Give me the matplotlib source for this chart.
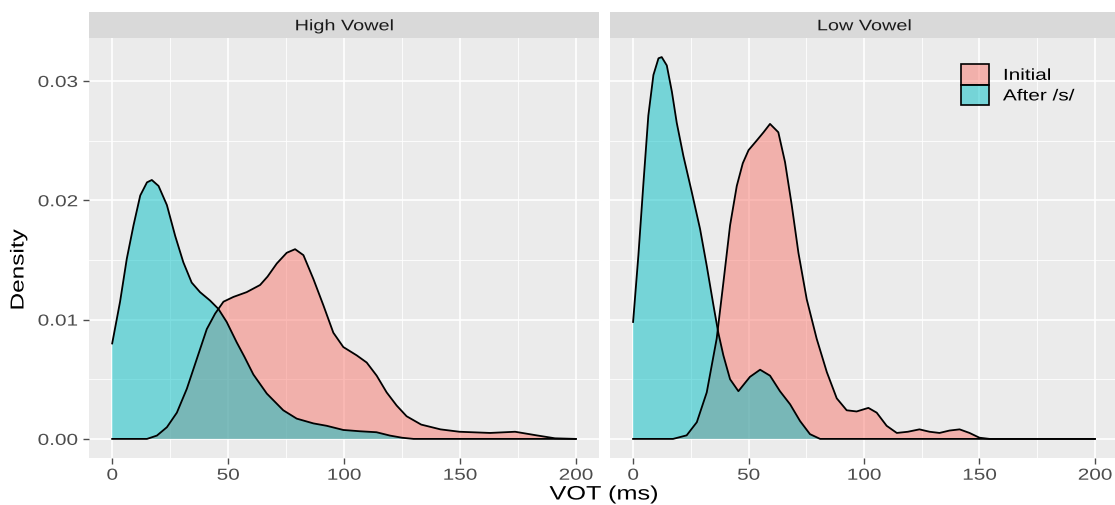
import matplotlib.pyplot as plt
from matplotlib.patheffects import AbstractPathEffect
from matplotlib.transforms import Affine2D

plt.rcParams["font.family"] = ["Liberation Sans", "DejaVu Sans"]

# VOT density estimates (x in ms, y = density)
high_initial_x = [0, 10, 15, 19.3, 23.6, 27.9, 32.2, 36.5, 40.8, 44.4, 48, 52.3, 58, 63.8, 67, 71, 75.3,
                  78.9, 82.5, 86.8, 91.1, 95.4, 99.7, 105.5, 109.8, 114.1, 118.4, 122.7, 127, 133.3,
                  141.6, 149.8, 163, 173.8, 183, 191, 200]
high_initial_y = [0, 0, 0, 0.00028, 0.00098, 0.0022, 0.0042, 0.0067, 0.0092, 0.0105, 0.0115, 0.0119,
                  0.0123, 0.0129, 0.0136, 0.0147, 0.0156, 0.0159, 0.0154, 0.0134, 0.0112, 0.0089, 0.0077,
                  0.0070, 0.0064, 0.0053, 0.0039, 0.0028, 0.0019, 0.0012, 0.0008, 0.0006, 0.0005,
                  0.0006, 0.0003, 0.00005, 0]
high_after_x = [0, 3.4, 6.3, 9.2, 12.1, 15, 17.1, 20, 23.6, 27.2, 30.7, 34.3, 37.9, 42.2, 45.8, 49.4,
                53.7, 57, 60.9, 66.7, 73.8, 79.6, 86.8, 92.5, 99.7, 106.9, 114, 119.8, 125, 130, 200]
high_after_y = [0.0080, 0.0115, 0.0151, 0.0179, 0.0204, 0.0215, 0.0217, 0.0212, 0.0196, 0.0170, 0.0148,
                0.0131, 0.0123, 0.0116, 0.0109, 0.0098, 0.0081, 0.0069, 0.0054, 0.0038, 0.0024,
                0.0017, 0.0013, 0.0011, 0.00075, 0.00064, 0.00056, 0.00028, 0.0001, 0, 0]

low_initial_x = [0, 17.3, 23.2, 27.6, 31.9, 36.2, 39.1, 42, 44.9, 47.5, 50, 53.5, 56.5, 59.3, 62.9, 65.8,
                 68.7, 71.6, 75.2, 79.5, 83.9, 88.2, 92.5, 96.8, 101.9, 105.5, 109.8, 114.2, 119, 124,
                 128.4, 132.7, 137, 141.4, 145.7, 150, 154.4, 200]
low_initial_y = [0, 0, 0.0003, 0.0014, 0.0039, 0.0084, 0.0131, 0.0179, 0.0212, 0.0231, 0.0242, 0.0250,
                 0.0257, 0.0264, 0.0257, 0.0232, 0.0196, 0.0156, 0.0117, 0.0084, 0.0056, 0.0034, 0.0024,
                 0.0023, 0.0026, 0.0022, 0.0011, 0.0005, 0.0006, 0.0008, 0.0006, 0.0005, 0.0007, 0.0008,
                 0.0005, 0.0001, 0, 0]
low_after_x = [0, 2.3, 4.5, 6.6, 8.8, 11, 12.4, 14.6, 16.8, 18.9, 21.8, 25.4, 29, 31.9, 34.8, 36.9, 39.1,
               42, 45.6, 50.6, 55, 59.3, 63.6, 68, 72.3, 76.6, 81, 200]
low_after_y = [0.0098, 0.0154, 0.0215, 0.0271, 0.0305, 0.0319, 0.0320, 0.0313, 0.0291, 0.0265, 0.0237,
               0.0207, 0.0176, 0.0145, 0.0112, 0.0089, 0.0070, 0.0050, 0.0040, 0.0052, 0.0058, 0.0053,
               0.0040, 0.0029, 0.0015, 0.0004, 0, 0]

panels = ["High Vowel", "Low Vowel"]
groups = ["Initial", "After /s/"]
colors = ["#F8766D", "#00BFC4"]
x_ticks = [0, 50, 100, 150, 200]
y_ticks = [0.00, 0.01, 0.02, 0.03]

data = {
    "High Vowel": [(high_initial_x, high_initial_y), (high_after_x, high_after_y)],
    "Low Vowel": [(low_initial_x, low_initial_y), (low_after_x, low_after_y)],
}


class Widen(AbstractPathEffect):
    """stretch glyphs along the text direction (the source font is wide)"""

    def __init__(self, sx=1.3, frac=0.5):
        super().__init__()
        self.sx = sx
        self.frac = frac

    def draw_path(self, renderer, gc, tpath, affine, rgbFace=None):
        v = tpath.vertices
        if len(v):
            x0 = v[:, 0].min() + self.frac * (v[:, 0].max() - v[:, 0].min())
        else:
            x0 = 0
        t = Affine2D().translate(-x0, 0).scale(self.sx, 1).translate(x0, 0) + affine
        renderer.draw_path(gc, tpath, t, rgbFace)


SX = 1.3

W, H = 1115, 505
fig = plt.figure(figsize=(W / 100, H / 100), dpi=100)
fig.patch.set_facecolor("white")

# panel boxes in pixels: left, right
boxes = [(89, 599), (610, 1118)]
top, bottom, strip_top = 38, 458, 12

for i, name in enumerate(panels):
    l, r = boxes[i]
    ax = fig.add_axes([l / W, 1 - bottom / H, (r - l) / W, (bottom - top) / H])
    ax.set_facecolor("#EBEBEB")
    for s in ax.spines.values():
        s.set_visible(False)
    ax.set_xlim(-10, 210)
    ax.set_ylim(-0.0016, 0.0336)
    for v in [25, 75, 125, 175]:
        ax.axvline(v, color="white", lw=0.6, zorder=0)
    for v in [0.005, 0.015, 0.025]:
        ax.axhline(v, color="white", lw=0.6, zorder=0)
    for v in x_ticks:
        ax.axvline(v, color="white", lw=1.2, zorder=0)
    for v in y_ticks:
        ax.axhline(v, color="white", lw=1.2, zorder=0)

    for (xs, ys), c, g in zip(data[name], colors, groups):
        ax.fill_between(xs, ys, 0, facecolor=c, alpha=0.5, edgecolor="none", label=g)
        ax.plot(xs, ys, color="black", lw=1.3, solid_joinstyle="round")

    ax.set_xticks(x_ticks)
    ax.set_xticklabels([str(v) for v in x_ticks])
    ax.tick_params(axis="x", colors="#4D4D4D", labelsize=11.5, length=4, width=1, pad=3)
    for t in ax.get_xticklabels():
        t.set_path_effects([Widen(SX, 0.5)])
    if i == 0:
        ax.set_yticks(y_ticks)
        ax.set_yticklabels(["%.2f" % v for v in y_ticks])
        ax.tick_params(axis="y", colors="#4D4D4D", labelsize=11.5, length=4, width=1, pad=4)
        for t in ax.get_yticklabels():
            t.set_path_effects([Widen(SX, 1.0)])
    else:
        ax.set_yticks(y_ticks)
        ax.set_yticklabels([])
        ax.tick_params(axis="y", length=0)
        leg = ax.legend(loc="upper left", bbox_to_anchor=((955 - l) / (r - l), (bottom - 58) / (bottom - top)),
                        frameon=False, fontsize=11.5, handlelength=1.75, handleheight=1.6,
                        handletextpad=0.85, labelspacing=0.0, borderaxespad=0)
        for h in leg.legend_handles:
            h.set_edgecolor("black")
            h.set_linewidth(1.2)
        for t in leg.get_texts():
            t.set_path_effects([Widen(SX, 0.0)])

    sax = fig.add_axes([l / W, 1 - top / H, (r - l) / W, (top - strip_top) / H])
    sax.set_facecolor("#D9D9D9")
    sax.set_xticks([])
    sax.set_yticks([])
    for s in sax.spines.values():
        s.set_visible(False)
    st = sax.text(0.5, 0.45, name, transform=sax.transAxes, ha="center", va="center",
                  fontsize=11, color="#1A1A1A")
    st.set_path_effects([Widen(SX, 0.5)])

xl = fig.text(604 / W, 1 - 495 / H, "VOT (ms)", ha="center", va="center", fontsize=14)
xl.set_path_effects([Widen(SX, 0.5)])
yl = fig.text(19 / W, 1 - 270 / H, "Density", ha="center", va="center", fontsize=13.5, rotation=90)
yl.set_path_effects([Widen(SX, 0.5)])

fig.savefig("out.png", dpi=100)
